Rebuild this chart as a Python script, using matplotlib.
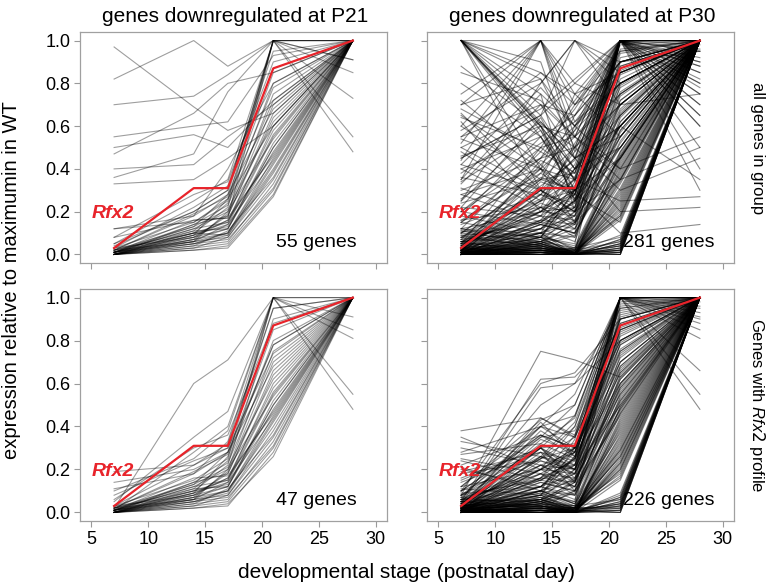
import numpy as np
import matplotlib.pyplot as plt

plt.rcParams['font.family'] = ['Liberation Sans', 'DejaVu Sans']
plt.rcParams['mathtext.fontset'] = 'custom'
plt.rcParams['mathtext.it'] = 'Liberation Sans:italic'

# sampling days (postnatal) and the Rfx2 reference profile (% of max in WT)
days = [7, 14, 17, 21, 28]
rfx2 = [3, 31, 31, 87, 100]

# genes downregulated at P21, all genes in group (55)
p21_all = [
    [97, 69, 58, 66, 100], [82, 100, 88, 100, 100], [70, 74, 84, 100, 100],
    [55, 60, 62, 93, 100], [50, 56, 50, 72, 100], [47, 66, 80, 85, 100],
    [40, 42, 55, 70, 100], [36, 47, 76, 100, 91], [33, 35, 45, 60, 100],
    [12, 18, 40, 80, 100], [8, 16, 17, 100, 55], [5, 20, 30, 100, 48],
    [0, 5, 10, 45, 100], [1, 8, 12, 52, 100], [0, 3, 5, 30, 100],
    [2, 10, 15, 60, 100], [1, 12, 20, 75, 100], [0, 6, 8, 38, 100],
    [3, 15, 25, 100, 85], [1, 10, 22, 100, 100], [0, 4, 6, 33, 100],
    [2, 18, 28, 68, 100], [0, 7, 12, 48, 100], [1, 9, 14, 55, 100],
    [4, 20, 30, 100, 91], [0, 5, 9, 42, 100], [1, 14, 18, 64, 100],
    [0, 2, 4, 28, 100], [2, 11, 24, 80, 100], [0, 8, 16, 58, 100],
    [1, 6, 10, 40, 100], [3, 22, 32, 95, 100], [0, 10, 13, 50, 100],
    [1, 7, 19, 70, 100], [0, 4, 11, 36, 100], [2, 13, 21, 62, 100],
    [0, 9, 26, 78, 100], [1, 16, 17, 46, 100], [0, 3, 8, 35, 100],
    [5, 25, 35, 100, 73], [1, 12, 15, 56, 100], [0, 6, 14, 44, 100],
    [2, 19, 27, 85, 100], [0, 11, 12, 50, 100], [1, 5, 7, 31, 100],
    [3, 8, 18, 66, 100], [0, 14, 23, 72, 100], [1, 10, 9, 39, 100],
    [8, 28, 34, 90, 100], [0, 2, 3, 27, 100], [12, 15, 26, 60, 100],
    [2, 6, 20, 54, 100], [0, 9, 16, 47, 100], [1, 13, 28, 100, 100],
    [0, 7, 10, 43, 100],
]

# genes downregulated at P30, all genes in group (281, drawn subset)
p30_all = [
    # stay near zero until P17/P21
    [0, 0, 0, 0, 100], [0, 2, 0, 1, 100], [1, 3, 0, 3, 100], [0, 1, 1, 2, 100],
    [2, 4, 0, 5, 100], [0, 0, 1, 4, 100], [1, 2, 1, 0, 100], [0, 3, 2, 6, 100],
    [3, 5, 0, 1, 100], [0, 1, 0, 7, 100], [1, 0, 0, 2, 100], [0, 2, 3, 8, 100],
    [2, 6, 1, 0, 100], [0, 0, 0, 3, 100], [5, 3, 0, 1, 100], [0, 4, 0, 5, 100],
    [1, 1, 2, 18, 100], [3, 2, 0, 24, 100], [0, 5, 1, 17, 100], [6, 8, 0, 30, 100],
    [0, 0, 1, 21, 100], [2, 3, 0, 26, 100], [0, 1, 0, 33, 100], [4, 7, 2, 38, 100],
    [1, 0, 0, 35, 100], [0, 6, 3, 41, 100], [8, 4, 0, 4, 100], [0, 2, 0, 19, 100],
    [1, 4, 1, 23, 100], [0, 3, 0, 45, 100], [10, 6, 0, 2, 100], [0, 0, 2, 28, 100],
    [3, 1, 0, 36, 100], [0, 8, 4, 47, 100], [2, 2, 0, 16, 100], [12, 5, 1, 6, 100],
    [0, 1, 0, 40, 100], [1, 3, 0, 29, 100], [0, 0, 0, 22, 100], [4, 2, 1, 9, 100],
    [7, 10, 0, 25, 100], [0, 4, 2, 42, 100], [15, 8, 0, 3, 100], [1, 2, 0, 31, 100],
    [0, 0, 1, 37, 100], [2, 5, 0, 44, 100], [9, 3, 0, 18, 100], [0, 1, 3, 46, 100],
    [18, 10, 2, 1, 100], [1, 6, 0, 48, 100], [0, 2, 0, 7, 100], [3, 0, 1, 4, 100],
    [0, 5, 0, 27, 100], [6, 1, 0, 0, 100], [0, 3, 2, 34, 100], [2, 0, 0, 5, 100],
    [0, 7, 1, 20, 100], [11, 4, 0, 2, 100], [1, 1, 0, 39, 100], [0, 9, 3, 43, 100],
    # steady rise
    [0, 10, 20, 50, 100], [2, 15, 25, 60, 100], [5, 20, 18, 55, 100], [0, 8, 30, 70, 100],
    [3, 25, 35, 80, 100], [1, 12, 22, 65, 100], [6, 18, 28, 75, 100], [0, 5, 15, 58, 100],
    [4, 22, 20, 85, 100], [2, 30, 32, 90, 100], [8, 15, 12, 52, 100], [0, 20, 40, 95, 100],
    [3, 10, 8, 62, 100], [1, 28, 24, 72, 100], [10, 25, 30, 82, 100], [0, 14, 10, 48, 100],
    [5, 35, 38, 88, 100], [2, 8, 26, 68, 100], [7, 40, 30, 78, 100], [1, 16, 14, 57, 100],
    [12, 20, 22, 92, 100], [0, 6, 12, 45, 100], [4, 32, 44, 100, 100], [3, 18, 16, 66, 100],
    [9, 12, 25, 74, 100], [0, 24, 18, 86, 100], [6, 10, 34, 96, 100], [2, 38, 28, 80, 100],
    [1, 4, 9, 53, 100], [14, 28, 20, 70, 100], [0, 16, 36, 100, 100], [5, 6, 14, 60, 100],
    [3, 42, 26, 84, 100], [20, 14, 10, 55, 100], [0, 12, 6, 64, 100], [8, 26, 42, 98, 100],
    [2, 20, 30, 76, 100], [11, 8, 16, 50, 100], [4, 30, 22, 90, 100], [1, 10, 18, 62, 100],
    [16, 22, 12, 72, 100], [0, 34, 28, 94, 100], [7, 16, 24, 100, 100], [3, 6, 20, 67, 100],
    [22, 18, 8, 58, 100], [1, 44, 36, 88, 100], [6, 12, 28, 100, 100], [0, 22, 14, 79, 100],
    [10, 36, 30, 100, 100], [2, 14, 10, 46, 100],
    # scattered profiles
    [88, 60, 40, 70, 100], [80, 55, 65, 90, 100], [70, 82, 50, 100, 85], [65, 40, 55, 75, 100],
    [55, 70, 45, 60, 100], [50, 30, 60, 85, 100], [45, 65, 80, 100, 70], [40, 55, 35, 50, 100],
    [35, 75, 60, 80, 100], [30, 45, 70, 95, 100], [25, 60, 40, 65, 100], [20, 50, 55, 100, 90],
    [60, 35, 30, 45, 100], [75, 100, 70, 85, 100], [58, 80, 100, 90, 95], [48, 25, 50, 70, 100],
    [38, 62, 45, 100, 60], [28, 40, 75, 85, 100], [18, 55, 30, 60, 100], [52, 100, 62, 80, 100],
    [42, 30, 20, 55, 100], [68, 48, 38, 100, 80], [33, 70, 55, 40, 100], [24, 35, 65, 100, 100],
    [15, 45, 50, 75, 100], [62, 20, 35, 60, 100], [55, 85, 75, 100, 100], [46, 60, 25, 45, 100],
    [36, 28, 48, 100, 75], [26, 52, 62, 90, 100], [72, 42, 58, 80, 100], [44, 100, 48, 70, 100],
    [31, 18, 40, 60, 100], [22, 64, 34, 100, 65], [64, 50, 72, 100, 100], [40, 22, 52, 85, 100],
    [54, 40, 15, 35, 100], [16, 38, 58, 100, 100], [34, 58, 26, 50, 100], [50, 68, 82, 100, 88],
    [28, 15, 30, 65, 100], [85, 72, 55, 100, 100], [66, 30, 45, 55, 100], [12, 48, 68, 100, 95],
    [42, 78, 60, 90, 100],
    # peak at P21
    [5, 20, 30, 100, 95], [0, 10, 15, 100, 90], [2, 25, 40, 100, 85], [8, 30, 20, 100, 80],
    [0, 5, 10, 100, 75], [10, 35, 50, 100, 70], [3, 15, 25, 100, 65], [0, 8, 5, 100, 60],
    [15, 40, 35, 100, 50], [1, 12, 18, 100, 40], [6, 22, 28, 100, 30], [20, 45, 60, 100, 92],
    [2, 28, 45, 100, 88], [0, 2, 0, 100, 96], [12, 8, 30, 100, 82], [5, 50, 38, 100, 78],
    [0, 14, 22, 100, 98],
    # high early
    [100, 60, 30, 10, 14], [100, 62, 45, 20, 22], [100, 58, 35, 25, 27], [100, 82, 60, 40, 55],
    [100, 100, 80, 70, 75], [100, 65, 40, 50, 100], [100, 60, 55, 80, 100], [100, 75, 20, 35, 100],
    [100, 40, 25, 60, 100], [100, 85, 70, 100, 100], [100, 61, 50, 30, 45], [100, 30, 15, 45, 100],
    [100, 70, 65, 90, 100], [100, 55, 28, 15, 100], [100, 90, 45, 60, 35], [60, 100, 75, 55, 100],
    [35, 100, 100, 80, 100], [25, 80, 100, 70, 100], [45, 65, 100, 85, 100], [70, 100, 55, 35, 50],
]

# genes downregulated at P21 with Rfx2-like profile (47)
p21_rfx2 = [
    [2, 60, 71, 100, 100], [5, 35, 47, 100, 55], [1, 28, 40, 100, 48], [10, 25, 38, 100, 91],
    [19, 22, 30, 95, 100], [11, 18, 33, 100, 85], [14, 20, 28, 78, 100], [6, 30, 36, 88, 100],
    [0, 5, 10, 45, 100], [1, 8, 12, 52, 100], [0, 3, 5, 30, 100], [2, 10, 15, 60, 100],
    [1, 12, 20, 75, 100], [0, 6, 8, 38, 100], [3, 15, 25, 100, 81], [1, 10, 22, 90, 100],
    [0, 4, 6, 33, 100], [2, 18, 28, 68, 100], [0, 7, 12, 48, 100], [1, 9, 14, 55, 100],
    [0, 5, 9, 42, 100], [1, 14, 18, 64, 100], [0, 2, 4, 26, 100], [2, 11, 24, 80, 100],
    [0, 8, 16, 58, 100], [1, 6, 10, 40, 100], [3, 22, 32, 95, 100], [0, 10, 13, 50, 100],
    [1, 7, 19, 70, 100], [0, 4, 11, 36, 100], [2, 13, 21, 62, 100], [0, 9, 26, 78, 100],
    [1, 16, 17, 46, 100], [0, 3, 8, 35, 100], [1, 12, 15, 56, 100], [0, 6, 14, 44, 100],
    [2, 19, 27, 85, 100], [0, 11, 12, 50, 100], [1, 5, 7, 31, 100], [3, 8, 18, 66, 100],
    [0, 14, 23, 72, 100], [8, 24, 30, 74, 100], [0, 2, 3, 28, 100], [2, 6, 20, 54, 100],
    [0, 9, 16, 47, 100], [1, 13, 28, 100, 100], [0, 7, 10, 43, 100],
]

# genes downregulated at P30 with Rfx2-like profile (226, drawn subset)
p30_rfx2 = [
    # flat then late rise
    [0, 0, 0, 0, 100], [1, 2, 0, 2, 100], [0, 1, 1, 4, 100], [2, 3, 0, 1, 100],
    [0, 0, 1, 6, 100], [1, 4, 2, 3, 100], [0, 2, 0, 8, 100], [3, 1, 0, 5, 100],
    [0, 5, 1, 0, 100], [1, 0, 0, 7, 100], [0, 3, 2, 2, 100], [2, 6, 0, 9, 100],
    [0, 1, 0, 1, 100], [4, 2, 1, 4, 100], [0, 0, 0, 3, 100], [1, 7, 3, 6, 100],
    [0, 2, 0, 24, 100], [2, 0, 1, 17, 100], [0, 4, 0, 20, 100], [5, 3, 0, 31, 100],
    [0, 1, 2, 26, 100], [1, 5, 0, 29, 100], [0, 0, 1, 38, 100], [3, 8, 2, 35, 100],
    [0, 2, 0, 22, 100], [1, 1, 0, 44, 100], [0, 6, 1, 19, 100], [2, 3, 0, 40, 100],
    [0, 0, 0, 28, 100], [1, 4, 2, 16, 100], [6, 5, 0, 33, 100], [0, 1, 0, 25, 100],
    [2, 9, 3, 47, 100], [0, 2, 1, 21, 100], [1, 0, 0, 36, 100], [0, 3, 0, 30, 100],
    [3, 6, 2, 2, 100], [0, 1, 0, 5, 100], [1, 2, 1, 0, 100], [0, 7, 0, 3, 100],
    [2, 0, 0, 42, 100], [0, 4, 3, 18, 100], [1, 1, 0, 27, 100], [7, 3, 1, 34, 100],
    [0, 5, 0, 23, 100], [1, 2, 2, 39, 100], [0, 0, 0, 46, 100], [2, 8, 1, 32, 100],
    [0, 3, 0, 15, 100], [1, 1, 0, 49, 100], [4, 10, 4, 37, 100], [0, 2, 0, 7, 100],
    [1, 6, 1, 20, 100], [0, 0, 2, 26, 100], [3, 4, 0, 4, 100], [0, 1, 0, 43, 100],
    [2, 5, 3, 29, 100], [0, 3, 1, 1, 100], [1, 0, 0, 23, 100], [5, 7, 2, 41, 100],
    # gradual rise
    [0, 10, 20, 50, 100], [2, 15, 25, 60, 100], [5, 20, 18, 55, 100], [0, 8, 30, 70, 100],
    [3, 25, 35, 80, 100], [1, 12, 22, 65, 100], [6, 18, 28, 75, 100], [0, 5, 15, 58, 100],
    [4, 22, 20, 85, 100], [2, 30, 32, 90, 100], [8, 15, 12, 52, 100], [0, 20, 40, 95, 100],
    [3, 10, 8, 62, 100], [1, 28, 24, 72, 100], [10, 25, 30, 82, 100], [0, 14, 10, 48, 100],
    [5, 35, 38, 88, 100], [2, 8, 26, 68, 100], [7, 40, 30, 78, 100], [1, 16, 14, 57, 100],
    [12, 20, 22, 92, 100], [0, 6, 12, 45, 100], [4, 32, 44, 100, 100], [3, 18, 16, 66, 100],
    [9, 12, 25, 74, 100], [0, 24, 18, 86, 100], [6, 10, 34, 96, 100], [2, 38, 28, 80, 100],
    [1, 4, 9, 53, 100], [14, 28, 20, 70, 100], [0, 16, 36, 100, 100], [5, 6, 14, 60, 100],
    [3, 42, 26, 84, 100], [0, 12, 6, 64, 100], [8, 26, 42, 98, 100], [2, 20, 30, 76, 100],
    [11, 8, 16, 50, 100], [4, 30, 22, 90, 100], [1, 10, 18, 62, 100], [0, 34, 28, 94, 100],
    [7, 16, 24, 100, 100], [3, 6, 20, 67, 100], [1, 44, 36, 88, 100], [6, 12, 28, 100, 100],
    [0, 22, 14, 79, 100], [10, 36, 30, 100, 100], [2, 14, 10, 46, 100], [0, 18, 8, 56, 100],
    [1, 26, 20, 93, 100], [3, 9, 4, 51, 100], [0, 30, 16, 83, 100], [2, 12, 26, 97, 100],
    [5, 2, 10, 59, 100], [0, 20, 12, 73, 100], [1, 6, 2, 54, 100], [4, 16, 30, 100, 100],
    [0, 26, 22, 87, 100], [2, 4, 14, 63, 100], [8, 36, 26, 91, 100], [0, 10, 4, 49, 100],
    # higher start at P7
    [38, 44, 35, 80, 100], [30, 22, 15, 60, 100], [27, 32, 25, 75, 100], [25, 18, 12, 55, 100],
    [22, 36, 30, 90, 100], [20, 12, 8, 48, 100], [18, 24, 20, 70, 100], [33, 26, 18, 65, 100],
    [24, 15, 22, 85, 100], [28, 40, 45, 100, 100], [21, 10, 5, 52, 100], [16, 30, 14, 68, 100],
    [35, 20, 28, 78, 100], [19, 28, 10, 58, 100],
    # peak at P21
    [5, 20, 30, 100, 96], [0, 10, 15, 100, 93], [2, 25, 40, 100, 90], [8, 30, 20, 100, 85],
    [0, 5, 10, 100, 66], [10, 35, 50, 100, 55], [3, 15, 25, 100, 48], [0, 8, 5, 100, 98],
    [1, 12, 18, 100, 88], [6, 22, 28, 100, 95], [12, 40, 35, 100, 81], [0, 3, 2, 100, 91],
    # strong mid peak
    [8, 75, 71, 63, 100], [5, 62, 63, 85, 100], [10, 60, 65, 90, 100], [4, 58, 60, 95, 100],
    [12, 43, 50, 100, 100], [6, 50, 60, 80, 100], [3, 40, 55, 100, 100], [15, 30, 45, 100, 100],
]

datasets = [
    (p21_all, '55 genes'), (p30_all, '281 genes'),
    (p21_rfx2, '47 genes'), (p30_rfx2, '226 genes'),
]

W, H = 772, 587
fig = plt.figure(figsize=(W / 100, H / 100), dpi=100)

lefts = [80, 427, 80, 427]
tops = [32, 32, 289, 289]
bottoms = [263, 263, 521, 521]
axw = 307

for i, (profiles, label) in enumerate(datasets):
    ax = fig.add_axes([lefts[i] / W, 1 - bottoms[i] / H, axw / W, (bottoms[i] - tops[i]) / H])
    vals = np.array(profiles, dtype=float).T / 100
    alpha = 0.38 if i % 2 == 0 else 0.45
    ax.plot(days, vals, color='black', alpha=alpha, lw=0.8)
    ax.plot(days, np.array(rfx2) / 100, color='#e8232a', lw=1.6)
    ax.set_xlim(4, 31)
    ax.set_ylim(-0.04, 1.04)
    ax.set_xticks([5, 10, 15, 20, 25, 30])
    ax.set_yticks([0.0, 0.2, 0.4, 0.6, 0.8, 1.0])
    ax.yaxis.set_major_formatter(plt.FormatStrFormatter('%.1f'))
    ax.tick_params(color='#9a9a9a', length=4, width=0.8, labelsize=13, pad=3)
    if i % 2 == 1:
        ax.tick_params(labelleft=False)
    if i < 2:
        ax.tick_params(labelbottom=False)
    for sp in ax.spines.values():
        sp.set_color('#a0a0a0')
        sp.set_linewidth(0.9)
    ax.text(21.2, 0.055, label, fontsize=14, va='center', ha='left')
    ax.text(6.9, 0.19, 'Rfx2', fontsize=14, color='#e8232a', fontweight='bold',
            fontstyle='italic', ha='center', va='center')

fig.text(235 / W, 1 - 17 / H, 'genes downregulated at P21', fontsize=15, ha='center', va='center')
fig.text(582 / W, 1 - 17 / H, 'genes downregulated at P30', fontsize=15, ha='center', va='center')
fig.text(12 / W, 1 - 280 / H, 'expression relative to maximumin in WT', fontsize=14.5,
         rotation=90, ha='center', va='center')
fig.text(407 / W, 1 - 572 / H, 'developmental stage (postnatal day)', fontsize=15,
         ha='center', va='center')
fig.text(757 / W, 1 - 148 / H, 'all genes in group', fontsize=12, rotation=270,
         ha='center', va='center')
fig.text(757 / W, 1 - 405 / H, r'Genes with $\it{Rfx2}$ profile', fontsize=12, rotation=270,
         ha='center', va='center')

fig.savefig('out.png', dpi=100)
